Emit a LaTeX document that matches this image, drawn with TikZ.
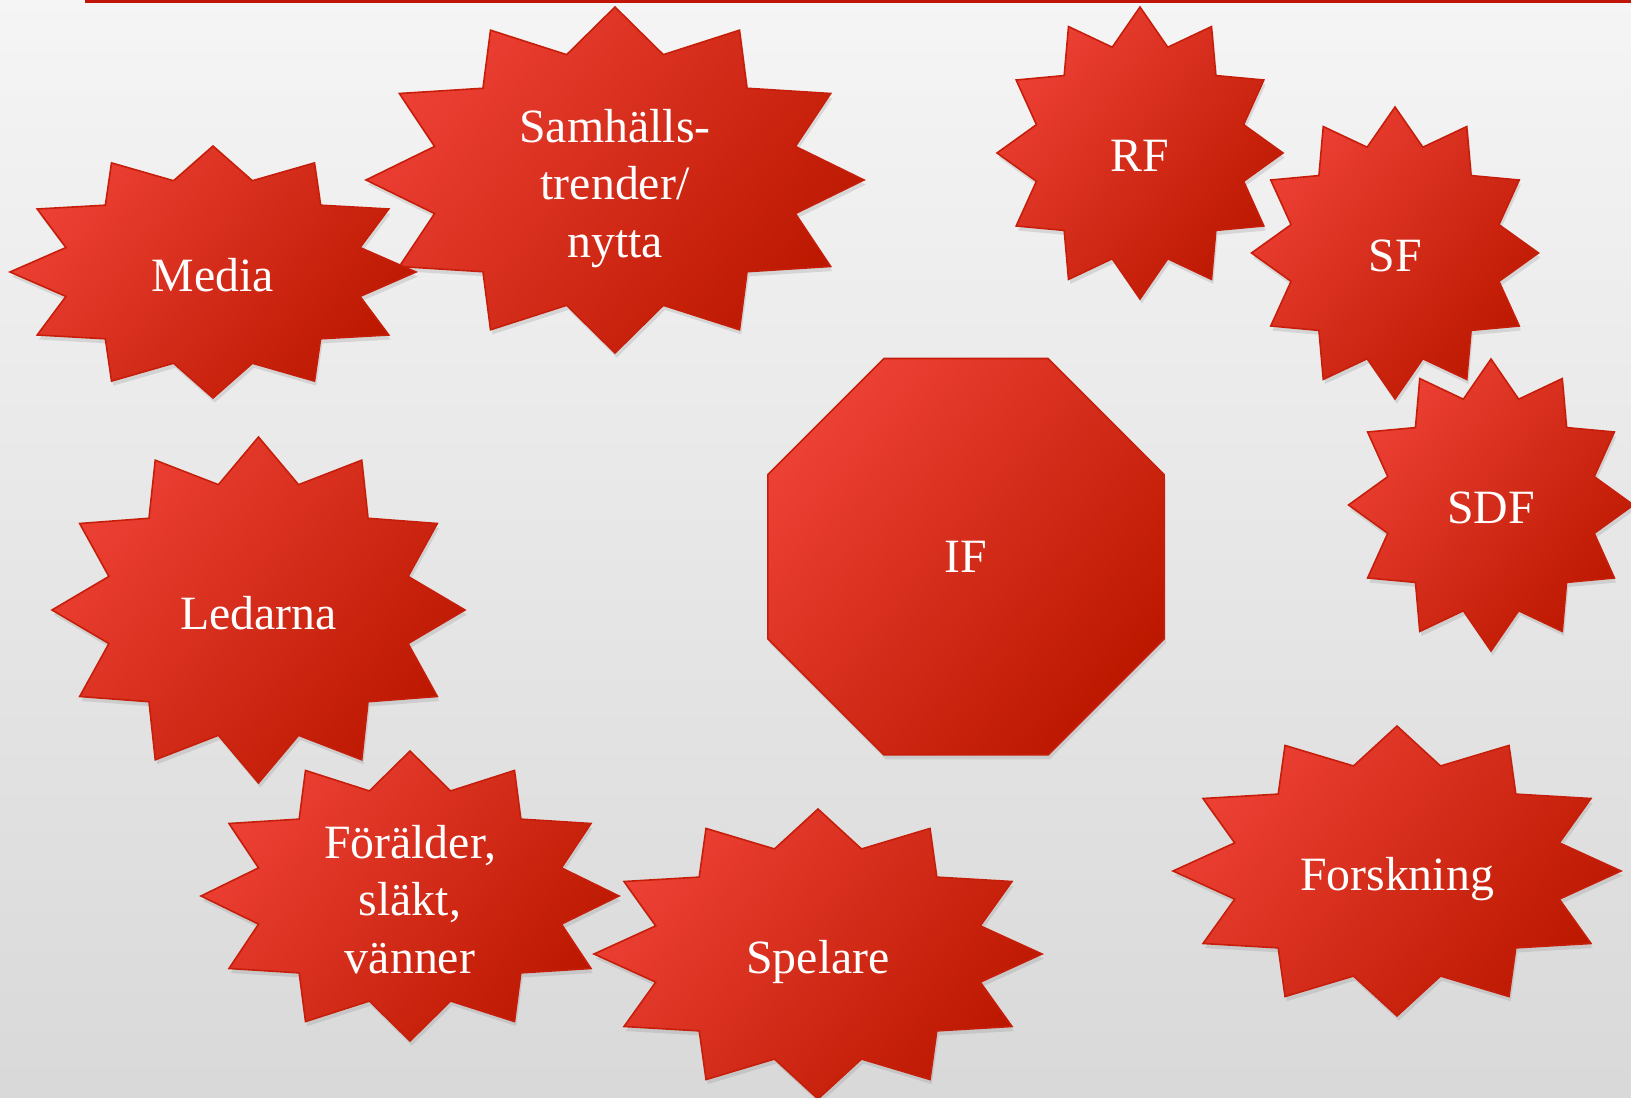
\documentclass[tikz,border=0pt]{standalone}
\usepackage{fontspec}
\setmainfont{Liberation Serif}
\usetikzlibrary{shapes.geometric,shadows}

\definecolor{burstlight}{RGB}{236,64,52}
\definecolor{burstdark}{RGB}{188,24,0}
\definecolor{burstedge}{RGB}{198,30,10}
\definecolor{rulered}{RGB}{192,22,10}

% twelve-point star round a centre, radii rx and ry, with its label node
\newcommand{\burst}[5]{%
  \pgfmathsetmacro\burstri{0.75*#3}%
  \pgfmathsetmacro\burstrj{0.75*#4}%
  \path[burstshape,shift={(#2)}] (0:#3 and #4)
    \foreach \a [evaluate=\a as \b using \a+15, evaluate=\a as \c using \a+30] in {0,30,...,330}
      {-- (\b:{\burstri} and {\burstrj}) -- (\c:#3 and #4)} -- cycle;
  \node[burstlabel] (#1) at (#2) {#5};}

\begin{document}
\begin{tikzpicture}[
  burstshape/.style={top color=burstlight,bottom color=burstdark,shading angle=50,
    draw=burstedge,line width=0.45pt,line join=miter,
    drop shadow={opacity=0.22,shadow xshift=0.5pt,shadow yshift=-1.3pt}},
  burstlabel/.style={text=white,align=center,inner sep=0pt,text depth=0pt,yshift=-0.9pt,
    font=\fontsize{13.6}{16.3}\selectfont},
  octagon/.style={regular polygon,regular polygon sides=8,minimum size=4.29cm,
    inner sep=0pt,burstshape,burstlabel,yshift=0pt}
]
  \useasboundingbox (0,0) rectangle (16.31,-10.98);
  \shade[top color=black!4,bottom color=black!15] (0,0) rectangle (16.31,-10.98);
  \draw[rulered,line width=0.8pt] (0.85,-0.013) -- (16.31,-0.013);

  \burst{samhalls}{6.15,-1.80}{2.49}{1.73}{Samhälls-\\trender/\\nytta}
  \burst{media}{2.13,-2.72}{2.03}{1.26}{Media}
  \burst{rf}{11.40,-1.53}{1.43}{1.46}{RF}
  \burst{sf}{13.95,-2.53}{1.435}{1.46}{SF}
  \burst{sdf}{14.91,-5.05}{1.425}{1.46}{SDF}
  \burst{ledarna}{2.585,-6.10}{2.065}{1.73}{Ledarna}
  \burst{foralder}{4.10,-8.96}{2.09}{1.45}{Förälder,\\släkt,\\vänner}
  \burst{spelare}{8.18,-9.54}{2.24}{1.45}{Spelare}
  \burst{forskning}{13.97,-8.71}{2.24}{1.45}{Forskning}

  \node[octagon] (if) at (9.66,-5.535) {IF};
\end{tikzpicture}
\end{document}
